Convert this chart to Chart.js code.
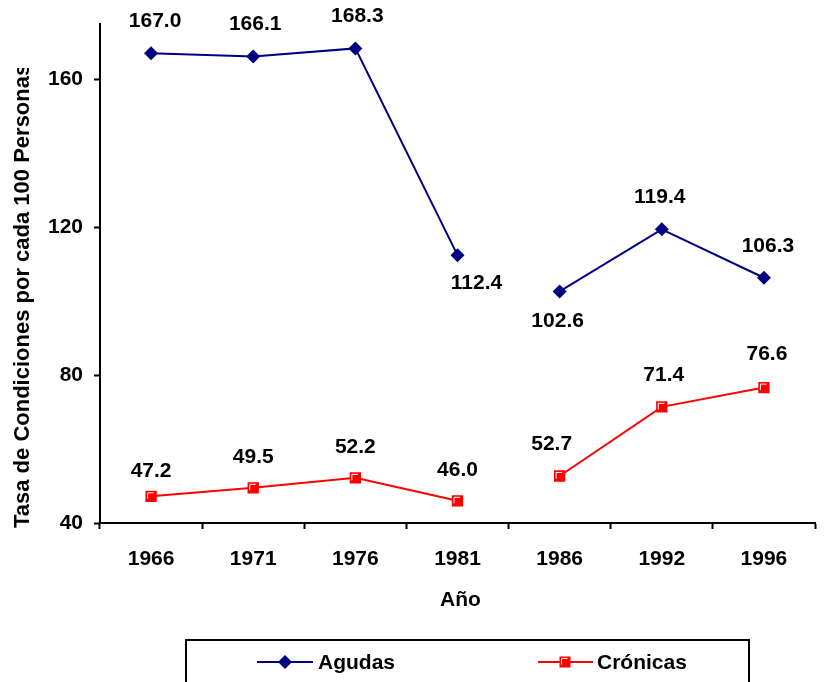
<!DOCTYPE html>
<html>
<head>
<meta charset="utf-8">
<script src="https://cdn.jsdelivr.net/npm/chart.js@4"></script>
<style>
  body { margin: 0; background: #fff; }
  #wrap { width: 825px; height: 682px; }
</style>
</head>
<body>
<div id="wrap"><canvas id="chart" width="825" height="682"></canvas></div>
<script>
// values
const years = ['1966', '1971', '1976', '1981', '1986', '1992', '1996'];
const agudas = [167.0, 166.1, 168.3, 112.4, 102.6, 119.4, 106.3];
const cronicas = [47.2, 49.5, 52.2, 46.0, 52.7, 71.4, 76.6];
const yTicks = [40, 80, 120, 160];
const seriesNames = ['Agudas', 'Crónicas'];
const yTitle = 'Tasa de Condiciones por cada 100 Personas';
const xTitle = 'Año';

const FONT = '"Liberation Sans", Arial, sans-serif';
const NAVY = '#000080';
const RED = '#ff0000';

// label offsets [dx, dy] from each point
const labelOffsets = [
  [[4, -32], [2, -32], [2, -32], [19, 28], [-2, 30], [-2, -32], [4, -32]],
  [[0, -25], [0, -31], [0, -31], [0, -31], [-8, -32], [2, -32], [3, -33]]
];

const extras = {
  id: 'extras',
  afterDatasetsDraw(chart) {
    const ctx = chart.ctx;
    ctx.save();
    // white highlight inside the red squares
    ctx.strokeStyle = '#fff';
    ctx.lineWidth = 1;
    chart.getDatasetMeta(1).data.forEach(pt => {
      ctx.beginPath();
      ctx.moveTo(pt.x - 3.5, pt.y + 2.5);
      ctx.lineTo(pt.x - 3.5, pt.y - 3.5);
      ctx.lineTo(pt.x + 2.5, pt.y - 3.5);
      ctx.stroke();
    });
    // data labels
    ctx.font = 'bold 21px ' + FONT;
    ctx.fillStyle = '#000';
    ctx.textAlign = 'center';
    ctx.textBaseline = 'middle';
    chart.data.datasets.forEach((ds, i) => {
      chart.getDatasetMeta(i).data.forEach((pt, j) => {
        const o = labelOffsets[i][j];
        ctx.fillText(ds.data[j].toFixed(1), pt.x + o[0], pt.y + o[1]);
      });
    });
    ctx.restore();
  },
  afterDraw(chart) {
    const ctx = chart.ctx;
    const area = chart.chartArea;
    ctx.save();
    ctx.fillStyle = '#000';

    // x title
    ctx.font = 'bold 21px ' + FONT;
    ctx.textAlign = 'center';
    ctx.textBaseline = 'middle';
    ctx.fillText(xTitle, (area.left + area.right) / 2 + 3, 600);

    // y title, clipped at the top like the original
    ctx.save();
    ctx.beginPath();
    ctx.rect(0, 68, 60, 614);
    ctx.clip();
    ctx.translate(23, 528);
    ctx.rotate(-Math.PI / 2);
    ctx.font = 'bold 22px ' + FONT;
    ctx.textAlign = 'left';
    ctx.textBaseline = 'middle';
    ctx.fillText(yTitle, 0, 0);
    ctx.restore();

    // legend box
    ctx.strokeStyle = '#000';
    ctx.lineWidth = 2;
    ctx.strokeRect(186, 640, 563, 60);

    const ly = 662;
    ctx.lineWidth = 2;
    // Agudas
    ctx.strokeStyle = NAVY;
    ctx.beginPath();
    ctx.moveTo(257, ly);
    ctx.lineTo(313, ly);
    ctx.stroke();
    ctx.fillStyle = NAVY;
    ctx.beginPath();
    ctx.moveTo(285, ly - 7);
    ctx.lineTo(292, ly);
    ctx.lineTo(285, ly + 7);
    ctx.lineTo(278, ly);
    ctx.closePath();
    ctx.fill();
    // Crónicas
    ctx.strokeStyle = RED;
    ctx.beginPath();
    ctx.moveTo(538, ly);
    ctx.lineTo(593, ly);
    ctx.stroke();
    ctx.fillStyle = RED;
    ctx.fillRect(559.5, ly - 5.5, 11, 11);
    ctx.strokeStyle = '#fff';
    ctx.lineWidth = 1;
    ctx.beginPath();
    ctx.moveTo(561.5, ly + 2.5);
    ctx.lineTo(561.5, ly - 3.5);
    ctx.lineTo(567.5, ly - 3.5);
    ctx.stroke();

    ctx.fillStyle = '#000';
    ctx.font = 'bold 21px ' + FONT;
    ctx.textAlign = 'left';
    ctx.fillText(seriesNames[0], 318, ly + 1);
    ctx.fillText(seriesNames[1], 597, ly + 1);
    ctx.restore();
  }
};

// gap between 1981 and 1986
const hideGap = ctx => ctx.p0DataIndex === 3 ? 'rgba(0,0,0,0)' : undefined;

new Chart(document.getElementById('chart'), {
  type: 'line',
  data: {
    labels: years,
    datasets: [
      {
        label: seriesNames[0],
        data: agudas,
        borderColor: NAVY,
        backgroundColor: NAVY,
        borderWidth: 2,
        pointStyle: 'rectRot',
        pointRadius: 7,
        pointBorderWidth: 0,
        tension: 0,
        segment: { borderColor: hideGap }
      },
      {
        label: seriesNames[1],
        data: cronicas,
        borderColor: RED,
        backgroundColor: RED,
        borderWidth: 2,
        pointStyle: 'rect',
        pointRadius: 8,
        pointBorderWidth: 0,
        tension: 0,
        segment: { borderColor: hideGap }
      }
    ]
  },
  options: {
    responsive: false,
    animation: false,
    layout: { padding: { top: 20, right: 10, left: 0, bottom: 0 } },
    plugins: {
      legend: { display: false },
      tooltip: { enabled: false }
    },
    scales: {
      x: {
        offset: true,
        afterFit: s => { s.height = 159; },
        grid: {
          offset: true,
          drawOnChartArea: false,
          tickLength: 6,
          tickColor: '#000',
          tickWidth: 2
        },
        border: { color: '#000', width: 2 },
        ticks: {
          color: '#000',
          font: { family: FONT, size: 21, weight: 'bold' },
          padding: 18,
          maxRotation: 0
        }
      },
      y: {
        min: 40,
        max: 175,
        afterFit: s => { s.width = 100; },
        afterBuildTicks: s => { s.ticks = yTicks.map(v => ({ value: v })); },
        grid: {
          drawOnChartArea: false,
          tickLength: 6,
          tickColor: '#000',
          tickWidth: 2
        },
        border: { color: '#000', width: 2 },
        ticks: {
          color: '#000',
          font: { family: FONT, size: 21, weight: 'bold' },
          padding: 11
        }
      }
    }
  },
  plugins: [extras]
});
</script>
</body>
</html>
